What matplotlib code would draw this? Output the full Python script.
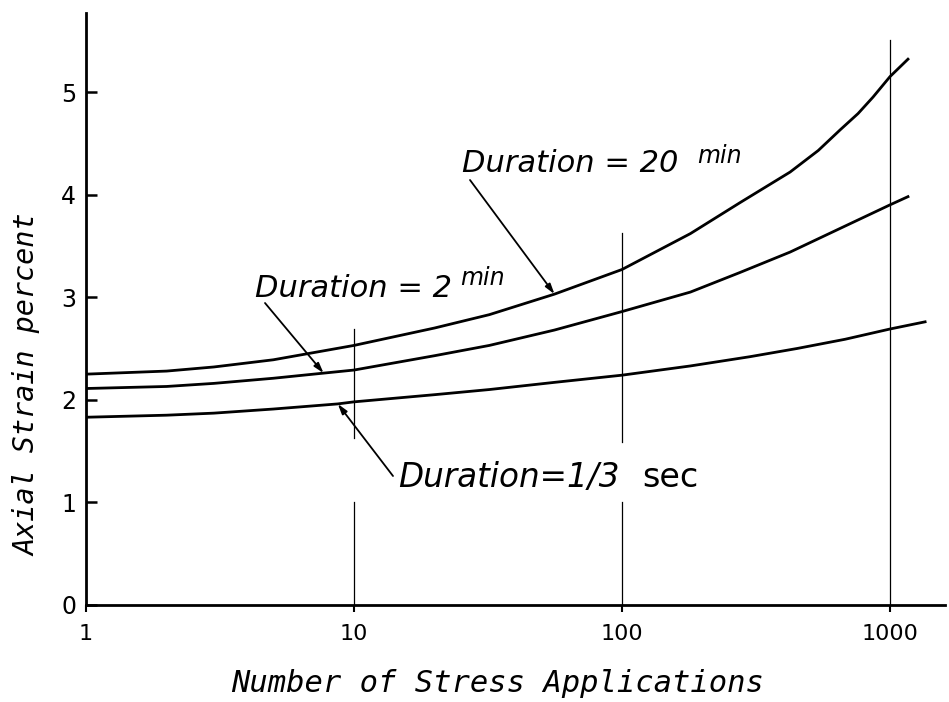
import numpy as np
import matplotlib
matplotlib.use("Agg")
import matplotlib.pyplot as plt

# =========================
# dados
# =========================

# Duration = 20 min
n_20min = [1, 2, 3, 5, 10, 20, 32, 56, 100, 180, 275, 424, 540, 651, 760, 864, 1000, 1167]
eps_20min = [2.25, 2.28, 2.32, 2.39, 2.53, 2.70, 2.83, 3.03, 3.27, 3.62, 3.92, 4.22, 4.43,
             4.63, 4.79, 4.95, 5.15, 5.32]

# Duration = 2 min
n_2min = [1, 2, 3, 5, 7.7, 10, 20, 32, 56, 100, 180, 275, 424, 651, 1000, 1167]
eps_2min = [2.11, 2.13, 2.16, 2.21, 2.26, 2.29, 2.43, 2.53, 2.68, 2.86, 3.05, 3.24, 3.44,
            3.67, 3.90, 3.98]

# Duration = 1/3 sec
n_13sec = [1, 2, 3, 5, 8.7, 10, 20, 32, 56, 100, 180, 300, 450, 680, 1000, 1352]
eps_13sec = [1.83, 1.85, 1.87, 1.91, 1.96, 1.98, 2.05, 2.10, 2.17, 2.24, 2.33, 2.42, 2.50,
             2.59, 2.69, 2.76]

x_ticks = [1, 10, 100, 1000]
x_tick_labels = ["1", "10", "100", "1000"]
y_ticks = [0, 1, 2, 3, 4, 5]

# segmentos das linhas verticais de referencia (x, y inicio, y fim)
grid_segs = [(10, 0, 1.0), (10, 1.63, 2.69),
             (100, 0, 1.0), (100, 1.59, 3.63),
             (1000, 0, 5.51)]

W, H = 949, 702

def fx(px):
    return px / W

def fy(py):
    return 1 - py / H

fig = plt.figure(figsize=(9.49, 7.02), dpi=100)
ax = fig.add_axes([fx(86), 97 / H, 859 / W, 592 / H])

ax.set_xscale("log")
ax.set_xlim(1, 10 ** (859 / 268))
ax.set_ylim(0, 5.77)

for xg, y0, y1 in grid_segs:
    ax.plot([xg, xg], [y0, y1], color="black", lw=0.9, zorder=1)

ax.plot(n_20min, eps_20min, color="black", lw=2.0, zorder=3)
ax.plot(n_2min, eps_2min, color="black", lw=2.0, zorder=3)
ax.plot(n_13sec, eps_13sec, color="black", lw=2.0, zorder=3)

ax.spines["top"].set_visible(False)
ax.spines["right"].set_visible(False)
ax.spines["left"].set_linewidth(2.0)
ax.spines["bottom"].set_linewidth(2.0)

ax.set_xticks(x_ticks)
ax.set_xticklabels(x_tick_labels)
ax.xaxis.set_minor_locator(matplotlib.ticker.NullLocator())
ax.set_yticks(y_ticks)
ax.tick_params(axis="y", direction="in", length=8, width=1.8, pad=7, labelsize=17)
ax.tick_params(axis="x", direction="out", length=5, width=1.5, pad=9, labelsize=16)

# rotulos dos eixos
fig.text(fx(498), fy(683), "Number of Stress Applications", ha="center", va="center",
         fontsize=22, family="DejaVu Sans Mono", style="italic")
fig.text(fx(27), fy(385), "Axial Strain percent", ha="center", va="center",
         rotation=90, fontsize=20.5, family="DejaVu Sans Mono", style="italic")

# anotacoes
seta = dict(arrowstyle="-|>,head_length=0.6,head_width=0.18", color="black", lw=1.3,
            shrinkA=0, shrinkB=0)

fig.text(fx(462), fy(172), "Duration = 20", fontsize=22, style="italic", va="baseline")
fig.text(fx(697), fy(163), "min", fontsize=17, style="italic", va="baseline")
ax.annotate("", xy=(n_20min[7], eps_20min[7]), xytext=(fx(470), fy(180)),
            textcoords="figure fraction", arrowprops=seta)

fig.text(fx(255), fy(297), "Duration = 2", fontsize=22, style="italic", va="baseline")
fig.text(fx(460), fy(285), "min", fontsize=17, style="italic", va="baseline")
ax.annotate("", xy=(n_2min[4], eps_2min[4]), xytext=(fx(265), fy(303)),
            textcoords="figure fraction", arrowprops=seta)

fig.text(fx(398), fy(487), "Duration=1/3", fontsize=23.5, style="italic", va="baseline")
fig.text(fx(642), fy(487), "sec", fontsize=24, va="baseline")
ax.annotate("", xy=(n_13sec[4], eps_13sec[4]), xytext=(fx(393), fy(476)),
            textcoords="figure fraction", arrowprops=seta)

fig.savefig("out.png", dpi=100, facecolor="white")
